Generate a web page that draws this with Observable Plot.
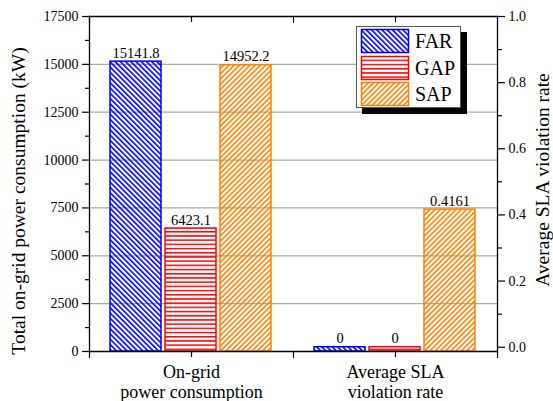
<!DOCTYPE html>
<html><head><meta charset="utf-8">
<script src="https://cdn.jsdelivr.net/npm/d3@7"></script>
<script src="https://cdn.jsdelivr.net/npm/@observablehq/plot@0.6"></script>
<style>
body{margin:0;background:#fff;font-family:'Liberation Serif',serif;}
#wrap{position:relative;width:553px;height:401px;}
#wrap svg text{font-family:'Liberation Serif',serif;}
#legend{position:absolute;left:356px;top:26px;}
</style></head>
<body>
<svg width="0" height="0" style="position:absolute">
<defs>
<pattern id="hatch-FAR" patternUnits="userSpaceOnUse" width="3.7" height="3.7" patternTransform="rotate(-45)"><rect x="0" y="0" width="1.6" height="3.7" fill="#0000ff"/></pattern>
<pattern id="hatch-GAP" patternUnits="userSpaceOnUse" width="4.2" height="4.2"><rect x="0" y="0" width="4.2" height="1.5" fill="#ff0000"/></pattern>
<pattern id="hatch-SAP" patternUnits="userSpaceOnUse" width="3.7" height="3.7" patternTransform="rotate(45)"><rect x="0" y="0" width="1.6" height="3.7" fill="#ff8000"/></pattern>
</defs>
</svg>
<div id="wrap"></div>
<script>
const groups = ["On-grid power consumption", "Average SLA violation rate"];
const groupLabels = ["On-grid\npower consumption", "Average SLA\nviolation rate"];
const series = ["FAR", "GAP", "SAP"];
const colors = ["#0000ff", "#ff0000", "#ff8000"];
const powerValues = [15141.8, 6423.1, 14952.2];
const powerLabels = ["15141.8", "6423.1", "14952.2"];
const slaValues = [0, 0, 0.4161];
const slaLabels = ["0", "0", "0.4161"];
const leftTicks = [0, 2500, 5000, 7500, 10000, 12500, 15000, 17500];
const leftMinorTicks = [1250, 3750, 6250, 8750, 11250, 13750, 16250];
const rightTicks = [0, 0.2, 0.4, 0.6, 0.8, 1.0];
const rightMinorTicks = [0.1, 0.3, 0.5, 0.7, 0.9];
const leftTitle = "Total on-grid power consumption (kW)";
const rightTitle = "Average SLA violation rate";

const leftMax = 17500;
const rightMin = -0.013, rightMax = 1.0;
const toLeft = v => (v - rightMin) / (rightMax - rightMin) * leftMax;
const fromLeft = y => y / leftMax * (rightMax - rightMin) + rightMin;

const rows = [];
series.forEach((s, i) => {
  rows.push({group: groups[0], series: s, y1: 0, y2: powerValues[i], label: powerLabels[i]});
  rows.push({group: groups[1], series: s, y1: 0, y2: toLeft(slaValues[i]), label: slaLabels[i]});
});

const W = 553, H = 401, mL = 89, mR = 56, mT = 16, mB = 50;
const frameH = H - mT - mB;
const font = "Liberation Serif";

const chart = Plot.plot({
  width: W, height: H,
  marginLeft: mL, marginRight: mR, marginTop: mT, marginBottom: mB,
  style: {fontFamily: font, fontSize: "14px", color: "#000", background: "transparent", overflow: "visible"},
  fx: {domain: groups, padding: 0, label: null},
  x: {domain: series, paddingInner: 0.071, paddingOuter: 0.357, axis: null},
  y: {domain: [0, leftMax], label: null},
  marks: [
    Plot.ruleY(leftTicks.slice(1, -1), {stroke: "#aaaaaa", strokeWidth: 1.2}),
    ...series.map((s, i) => Plot.barY(rows.filter(d => d.series === s), {
      fx: "group", x: "series", y1: "y1", y2: "y2",
      fill: `url(#hatch-${s})`, stroke: colors[i], strokeWidth: 1.5
    })),
    Plot.text(rows, {fx: "group", x: "series", y: "y2", text: "label", dy: -4, lineAnchor: "bottom", fontSize: 14.5, fontFamily: font}),
    Plot.ruleY([0, leftMax], {stroke: "#000", strokeWidth: 1.3}),
    Plot.frame({anchor: "left", facetAnchor: "left", stroke: "#000", strokeWidth: 1.3}),
    Plot.frame({anchor: "right", facetAnchor: "right", stroke: "#000", strokeWidth: 1.3}),
    Plot.frame({anchor: "left", insetBottom: frameH - 6, stroke: "#000", strokeWidth: 1.2}),
    Plot.frame({anchor: "left", insetTop: frameH, insetBottom: -6, stroke: "#000", strokeWidth: 1.2}),
    Plot.frame({anchor: "right", facetAnchor: "right", insetTop: frameH, insetBottom: -6, stroke: "#000", strokeWidth: 1.2}),
    Plot.ruleX([0], {x: null, insetBottom: frameH - 6, stroke: "#000", strokeWidth: 1.2}),
    Plot.axisY({anchor: "left", ticks: leftTicks, tickSize: 7, tickPadding: 4, fontSize: 14, fontFamily: font, label: null, strokeWidth: 1.2,
      tickFormat: d => String(d)}),
    Plot.axisY({anchor: "left", ticks: leftMinorTicks, tickSize: 4, tickFormat: () => "", label: null, strokeWidth: 1.2}),
    Plot.axisY({anchor: "right", ticks: rightTicks.map(toLeft), tickSize: 7, tickPadding: 4, fontSize: 14, fontFamily: font, label: null, strokeWidth: 1.2,
      tickFormat: d => fromLeft(d).toFixed(1)}),
    Plot.axisY({anchor: "right", ticks: rightMinorTicks.map(toLeft), tickSize: 4, tickFormat: () => "", label: null, strokeWidth: 1.2}),
    Plot.axisFx({anchor: "bottom", tickSize: 6, tickPadding: 6, fontSize: 18, fontFamily: font, lineHeight: 1.12, label: null, strokeWidth: 1.2,
      tickFormat: g => groupLabels[groups.indexOf(g)]}),
    Plot.text([leftTitle], {facetAnchor: "left", frameAnchor: "left", textAnchor: "middle", rotate: -90, dx: -71, dy: 17, fontSize: 19.5, fontFamily: font}),
    Plot.text([rightTitle], {facetAnchor: "right", frameAnchor: "right", textAnchor: "middle", rotate: -90, dx: 45, dy: -4, fontSize: 19.5, fontFamily: font})
  ]
});
document.getElementById("wrap").appendChild(chart);

// legend overlay
const ns = "http://www.w3.org/2000/svg";
const lg = document.createElementNS(ns, "svg");
lg.setAttribute("id", "legend");
lg.setAttribute("width", 114);
lg.setAttribute("height", 90);
const mk = (tag, attrs) => { const e = document.createElementNS(ns, tag); for (const k in attrs) e.setAttribute(k, attrs[k]); lg.appendChild(e); return e; };
mk("rect", {x: 6, y: 6, width: 105, height: 82, fill: "#000"});
mk("rect", {x: 0.5, y: 0.5, width: 104, height: 81, fill: "#fff", stroke: "#555", "stroke-width": 1});
const rowTops = [3.5, 30.5, 56.5];
series.forEach((s, i) => {
  mk("rect", {x: 5.5, y: rowTops[i], width: 47, height: 23, fill: `url(#hatch-${s})`, stroke: colors[i], "stroke-width": 1.5});
  const t = mk("text", {x: 59, y: rowTops[i] + 18.5, "font-family": font, "font-size": 20, fill: "#000"});
  t.textContent = s;
});
document.getElementById("wrap").appendChild(lg);
</script>
</body></html>
